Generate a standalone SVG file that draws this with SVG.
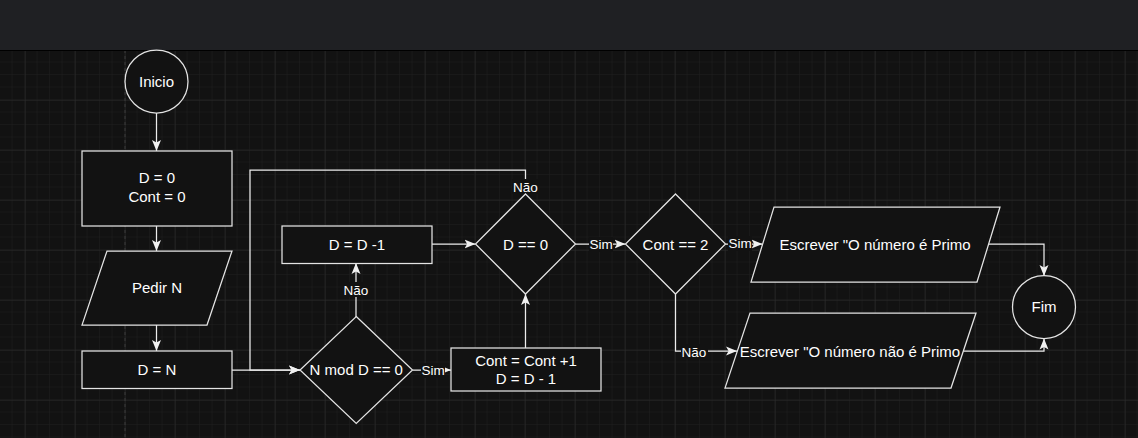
<svg xmlns="http://www.w3.org/2000/svg" width="1138" height="438" viewBox="0 0 1138 438">
  <defs>
    <pattern id="gridMinor" x="0" y="0" width="12.5" height="12.5" patternUnits="userSpaceOnUse">
      <path d="M12.5 0 V12.5 M0 12.5 H12.5" fill="none" stroke="#1f1f1f" stroke-width="1"/>
    </pattern>
    <pattern id="gridMajor" x="25" y="0" width="50" height="50" patternUnits="userSpaceOnUse">
      <path d="M0 0 V50 M0 0 H50" fill="none" stroke="#2c2c2c" stroke-width="1"/>
    </pattern>
    <marker id="arrow" markerUnits="userSpaceOnUse" markerWidth="12" markerHeight="12" viewBox="0 0 12 12" refX="11" refY="6" orient="auto">
      <path d="M0 1.5 L11 6 L0 10.5 L2.6 6 Z" fill="#f0f0f0"/>
    </marker>
    <style>
      .node { fill: #121212; stroke: #e4e4e4; stroke-width: 1.25; }
      .edge { fill: none; stroke: #ececec; stroke-width: 1.25; marker-end: url(#arrow); }
      .txt { font-family: "Liberation Sans", Arial, sans-serif; font-size: 15px; fill: #ffffff; text-anchor: middle; }
      .lbl { font-family: "Liberation Sans", Arial, sans-serif; font-size: 13.5px; fill: #ffffff; text-anchor: middle; }
      .lblbg { fill: #121212; }
    </style>
  </defs>

  <!-- canvas and grid -->
  <rect x="0" y="0" width="1138" height="438" fill="#121212"/>
  <rect x="0" y="50" width="1138" height="388" fill="url(#gridMinor)"/>
  <rect x="0" y="50" width="1138" height="388" fill="url(#gridMajor)"/>
  <line x1="125" y1="50" x2="125" y2="438" stroke="#3a3a3a" stroke-width="1" stroke-dasharray="3 3"/>

  <!-- toolbar strip -->
  <rect x="0" y="0" width="1138" height="50" fill="#1f2023"/>
  <line x1="0" y1="50.5" x2="1138" y2="50.5" stroke="#000000" stroke-width="1"/>

  <!-- connectors -->
  <g id="connectors">
    <path class="edge" d="M156.5 113 V151"/>
    <path class="edge" d="M156.5 226 V251"/>
    <path class="edge" d="M156.5 325 V351"/>
    <path class="edge" d="M232 370 H300"/>
    <path class="edge" d="M525.5 194 V170 H250 V370 H300"/>
    <path class="edge" d="M356 317 V263"/>
    <path class="edge" d="M412.5 370 H451"/>
    <path class="edge" d="M525.5 348 V294"/>
    <path class="edge" d="M432 244 H475.5"/>
    <path class="edge" d="M575.5 244 H625.5"/>
    <path class="edge" d="M725.5 244 H762.5"/>
    <path class="edge" d="M675.5 294 V351 H737"/>
    <path class="edge" d="M988.5 244 H1044 V276"/>
    <path class="edge" d="M963.5 351 H1044 V338.5"/>

    <!-- connector labels -->
    <rect class="lblbg" x="512" y="179" width="27" height="15"/>
    <text class="lbl" x="525.5" y="192">Não</text>
    <rect class="lblbg" x="343" y="282" width="27" height="15"/>
    <text class="lbl" x="356" y="294.5">Não</text>
    <rect class="lblbg" x="421" y="363" width="24" height="15"/>
    <text class="lbl" x="433" y="375">Sim</text>
    <rect class="lblbg" x="589" y="237" width="24" height="15"/>
    <text class="lbl" x="601" y="249">Sim</text>
    <rect class="lblbg" x="728" y="236" width="24" height="15"/>
    <text class="lbl" x="740" y="248">Sim</text>
    <rect class="lblbg" x="681" y="344" width="27" height="15"/>
    <text class="lbl" x="694" y="357">Não</text>
  </g>

  <g id="inicio">
    <circle class="node" cx="156.5" cy="81.5" r="31.5"/>
    <text class="txt" x="156.5" y="86.5">Inicio</text>
  </g>

  <g id="init-vars">
    <rect class="node" x="82" y="151" width="150" height="75"/>
    <text class="txt" x="157" y="183">D = 0</text>
    <text class="txt" x="157" y="202">Cont = 0</text>
  </g>

  <g id="pedir-n">
    <polygon class="node" points="107,251 232,251 207,325 82,325"/>
    <text class="txt" x="157" y="293">Pedir N</text>
  </g>

  <g id="d-igual-n">
    <rect class="node" x="82" y="351" width="150" height="37.5"/>
    <text class="txt" x="157" y="375">D = N</text>
  </g>

  <g id="n-mod-d">
    <polygon class="node" points="356.25,316.5 412.5,370 356.25,423.5 300,370"/>
    <text class="txt" x="356.25" y="375">N mod D == 0</text>
  </g>

  <g id="d-menos-um">
    <rect class="node" x="282" y="226" width="150" height="37.5"/>
    <text class="txt" x="357" y="249.5">D = D -1</text>
  </g>

  <g id="contador">
    <rect class="node" x="451" y="348" width="150" height="43"/>
    <text class="txt" x="526" y="365.5">Cont = Cont +1</text>
    <text class="txt" x="526" y="384">D = D - 1</text>
  </g>

  <g id="d-igual-zero">
    <polygon class="node" points="525.5,194 575.5,244 525.5,294 475.5,244"/>
    <text class="txt" x="525.5" y="249.5">D == 0</text>
  </g>

  <g id="cont-igual-dois">
    <polygon class="node" points="675.5,194 725.5,244 675.5,294 625.5,244"/>
    <text class="txt" x="675.5" y="249.5">Cont == 2</text>
  </g>

  <g id="escrever-primo">
    <polygon class="node" points="774,207 1000,207 977,282 751,282"/>
    <text class="txt" x="875" y="249.5">Escrever "O número é Primo</text>
  </g>

  <g id="escrever-nao-primo">
    <polygon class="node" points="750,313 976,313 951,388 725,388"/>
    <text class="txt" x="850" y="356.5">Escrever "O número não é Primo</text>
  </g>

  <g id="fim">
    <circle class="node" cx="1044" cy="307" r="31.5"/>
    <text class="txt" x="1044" y="312">Fim</text>
  </g>
</svg>
